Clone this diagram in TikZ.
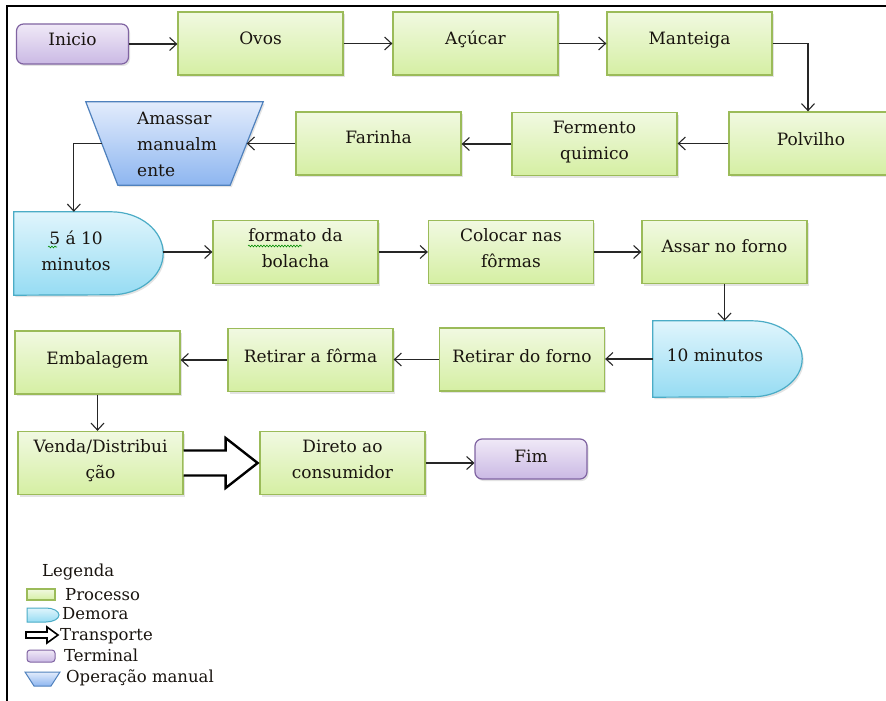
\documentclass[tikz,border=0pt]{standalone}
\usepackage{fontspec}
\setmainfont{DejaVu Serif}
\usetikzlibrary{arrows.meta,calc,shadows,decorations.pathmorphing}

\definecolor{procA}{RGB}{241,249,225}
\definecolor{procB}{RGB}{213,239,163}
\definecolor{procL}{RGB}{155,187,89}
\definecolor{delA}{RGB}{224,245,252}
\definecolor{delB}{RGB}{150,220,243}
\definecolor{delL}{RGB}{75,172,198}
\definecolor{termA}{RGB}{240,233,247}
\definecolor{termB}{RGB}{202,185,228}
\definecolor{termL}{RGB}{128,100,162}
\definecolor{manA}{RGB}{226,236,252}
\definecolor{manB}{RGB}{142,182,240}
\definecolor{manL}{RGB}{79,129,189}
\definecolor{ink}{RGB}{25,20,15}

\begin{document}
\begin{tikzpicture}[x=1pt,y=-1pt,
  softshadow/.style={drop shadow={shadow xshift=1.5pt,shadow yshift=-2pt,opacity=0.22}},
  procbox/.style={draw=procL,line width=1.3pt,top color=procA,bottom color=procB,
    minimum width=165pt,minimum height=63pt,inner sep=0pt,softshadow},
  termbox/.style={draw=termL,line width=1.2pt,top color=termA,bottom color=termB,
    rounded corners=7pt,minimum width=112pt,minimum height=40pt,inner sep=0pt,softshadow},
  frame/.style={minimum width=#1,inner sep=0pt,draw=none},
  delayshape/.style={draw=delL,line width=1.2pt,top color=delA,bottom color=delB,softshadow},
  manshape/.style={draw=manL,line width=1.2pt,top color=manA,bottom color=manB,softshadow},
  txt/.style={font=\fontsize{17pt}{26pt}\selectfont,text=ink,align=center,anchor=base,inner sep=0pt},
  legtxt/.style={font=\fontsize{16.5pt}{18pt}\selectfont,text=ink,anchor=base west,inner sep=0pt},
  flow/.style={draw=black!85,line width=1.1pt,-{Straight Barb[length=7pt,width=13pt]}},
  transport/.style={draw=black,line width=2.4pt,line join=miter},
  spell/.style={draw=green!55!black,line width=0.6pt,
    decorate,decoration={snake,amplitude=0.9pt,segment length=3pt}}]

\useasboundingbox (0,0) rectangle (886,701);
\fill[white] (0,0) rectangle (886,701);
\draw[line width=1.3pt] (7,701) -- (7,6) -- (886,6);

% ---- first row ----
\node[termbox] (ini) at (72.5,44) {};
\node[txt] (ini-t) at (72.5,46) {Inicio};
\node[procbox] (ovos) at (260.5,43.5) {};
\node[txt] (ovos-t) at (260.5,45) {Ovos};
\node[procbox] (acu) at (475.5,43.5) {};
\node[txt] (acu-t) at (475.5,45) {Açúcar};
\node[procbox] (mant) at (689.5,43.5) {};
\node[txt] (mant-t) at (689.5,45) {Manteiga};

% ---- second row ----
\node[procbox,minimum width=158pt] (polv) at (808,143.5) {};
\node[txt] (polv-t) at (811,145) {Polvilho};
\node[procbox] (ferm) at (594.5,144) {};
\node[txt] (ferm-t) at (594.5,159) {Fermento\\quimico};
\node[procbox] (far) at (378.5,143.5) {};
\node[txt] (far-t) at (378.5,143) {Farinha};

% manual operation (trapezoid)
\node[frame=177pt,minimum height=83pt] (amass) at (174.5,143.5) {};
\coordinate (amass-se) at ([xshift=-33pt]amass.south east);
\coordinate (amass-sw) at ([xshift=32pt]amass.south west);
\path[manshape] (amass.north west) -- (amass.north east) -- (amass-se) -- (amass-sw) -- cycle;
\node[txt,align=left,anchor=base west] (amass-t) at (137,176) {Amassar\\manualm\\ente};
\coordinate (amass-r) at ($(amass.north east)!0.5!(amass-se)$);
\coordinate (amass-l) at ($(amass.north west)!0.5!(amass-sw)$);

% ---- third row ----
\node[frame=149pt,minimum height=83pt] (d1) at (88.5,253.5) {};
\path[delayshape] (d1.north west) -- ([xshift=-52pt]d1.north east)
  arc[start angle=90,end angle=-90,x radius=52pt,y radius=41.5pt] -- (d1.south west) -- cycle;
\node[txt] (d1-t) at (76,270) {5 á 10\\minutos};
\node[procbox] (form) at (295.5,252) {};
\node[txt] (form-t) at (295.5,267) {formato da\\bolacha};
\node[procbox] (col) at (511,252) {};
\node[txt] (col-t) at (511,267) {Colocar nas\\fôrmas};
\node[procbox] (assar) at (724.5,252) {};
\node[txt] (assar-t) at (724.5,252) {Assar no forno};

% ---- fourth row ----
\node[frame=149pt,minimum height=76pt] (d2) at (727.5,359) {};
\path[delayshape] (d2.north west) -- ([xshift=-50pt]d2.north east)
  arc[start angle=90,end angle=-90,x radius=50pt,y radius=38pt] -- (d2.south west) -- cycle;
\node[txt] (d2-t) at (715,361) {10 minutos};
\node[procbox] (rdf) at (522,359.5) {};
\node[txt] (rdf-t) at (522,362) {Retirar do forno};
\node[procbox] (raf) at (310.5,360) {};
\node[txt] (raf-t) at (310.5,362) {Retirar a fôrma};
\node[procbox] (emb) at (97.5,362.5) {};
\node[txt] (emb-t) at (97.5,364) {Embalagem};

% ---- fifth row ----
\node[procbox] (venda) at (100.5,463) {};
\node[txt] (venda-t) at (100.5,478) {Venda/Distribui\\ção};
\node[procbox] (direto) at (342.5,463) {};
\node[txt] (direto-t) at (342.5,478) {Direto ao\\consumidor};
\node[termbox] (fim) at (531,459) {};
\node[txt] (fim-t) at (531,462) {Fim};

% spelling marks under words
\draw[spell] (248,246) -- (302,246);
\draw[spell] (48,247) -- (57,247);

% ---- connectors ----
\draw[flow] (ini.east) -- (ini.east -| ovos.west);
\draw[flow] (ovos.east) -- (acu.west);
\draw[flow] (acu.east) -- (mant.west);
\draw[flow] (mant.east) -| (polv.north);
\draw[flow] (polv.west) -- (polv.west -| ferm.east);
\draw[flow] (ferm.west) -- (ferm.west -| far.east);
\draw[flow] (far.west) -- (far.west -| amass-r);
\coordinate (bend1) at ([xshift=-28pt]amass-l);
\draw[flow] (amass-l) -- (bend1) -- (bend1 |- d1.north);
\draw[flow] (d1.east |- form.west) -- (form.west);
\draw[flow] (form.east) -- (col.west);
\draw[flow] (col.east) -- (assar.west);
\draw[flow] (assar.south) -- (assar.south |- d2.north);
\draw[flow] (d2.west) -- (d2.west -| rdf.east);
\draw[flow] (rdf.west) -- (rdf.west -| raf.east);
\draw[flow] (raf.west) -- (raf.west -| emb.east);
\draw[flow] (emb.south) -- (emb.south |- venda.north);
\draw[flow] (direto.east) -- (direto.east -| fim.west);

% transport block arrow
\begin{scope}[shift={(venda.east)}]
  \fill[white] (0,-12.5) -- (42,-12.5) -- (42,-25) -- (74,0) -- (42,25) -- (42,12.5) -- (0,12.5) -- cycle;
  \draw[transport] (0,-12.5) -- (42,-12.5) -- (42,-25) -- (74,0) -- (42,25) -- (42,12.5) -- (0,12.5);
\end{scope}

% ---- legend ----
\node[legtxt] (leg) at (42,576) {Legenda};
\path[draw=procL,line width=1.1pt,top color=procA,bottom color=procB] (27,589) rectangle (55,600);
\node[legtxt] (leg1) at (65,600) {Processo};
\path[draw=delL,line width=1pt,top color=delA,bottom color=delB] (27,608) -- (46,608)
  arc[start angle=90,end angle=-90,x radius=13pt,y radius=7pt] -- (27,622) -- cycle;
\node[legtxt] (leg2) at (62,619) {Demora};
\path[draw=black,line width=1.6pt,fill=white,line join=miter] (26,632) -- (47,632) -- (47,627)
  -- (58,635) -- (47,643) -- (47,638) -- (26,638) -- cycle;
\node[legtxt] (leg3) at (60,640) {Transporte};
\path[draw=termL,line width=1pt,top color=termA,bottom color=termB,rounded corners=3pt] (27,650) rectangle (55,662);
\node[legtxt] (leg4) at (64,661) {Terminal};
\path[draw=manL,line width=1pt,top color=manA,bottom color=manB] (25,672) -- (60,672) -- (51,686) -- (34,686) -- cycle;
\node[legtxt] (leg5) at (66,682) {Operação manual};

\end{tikzpicture}
\end{document}
